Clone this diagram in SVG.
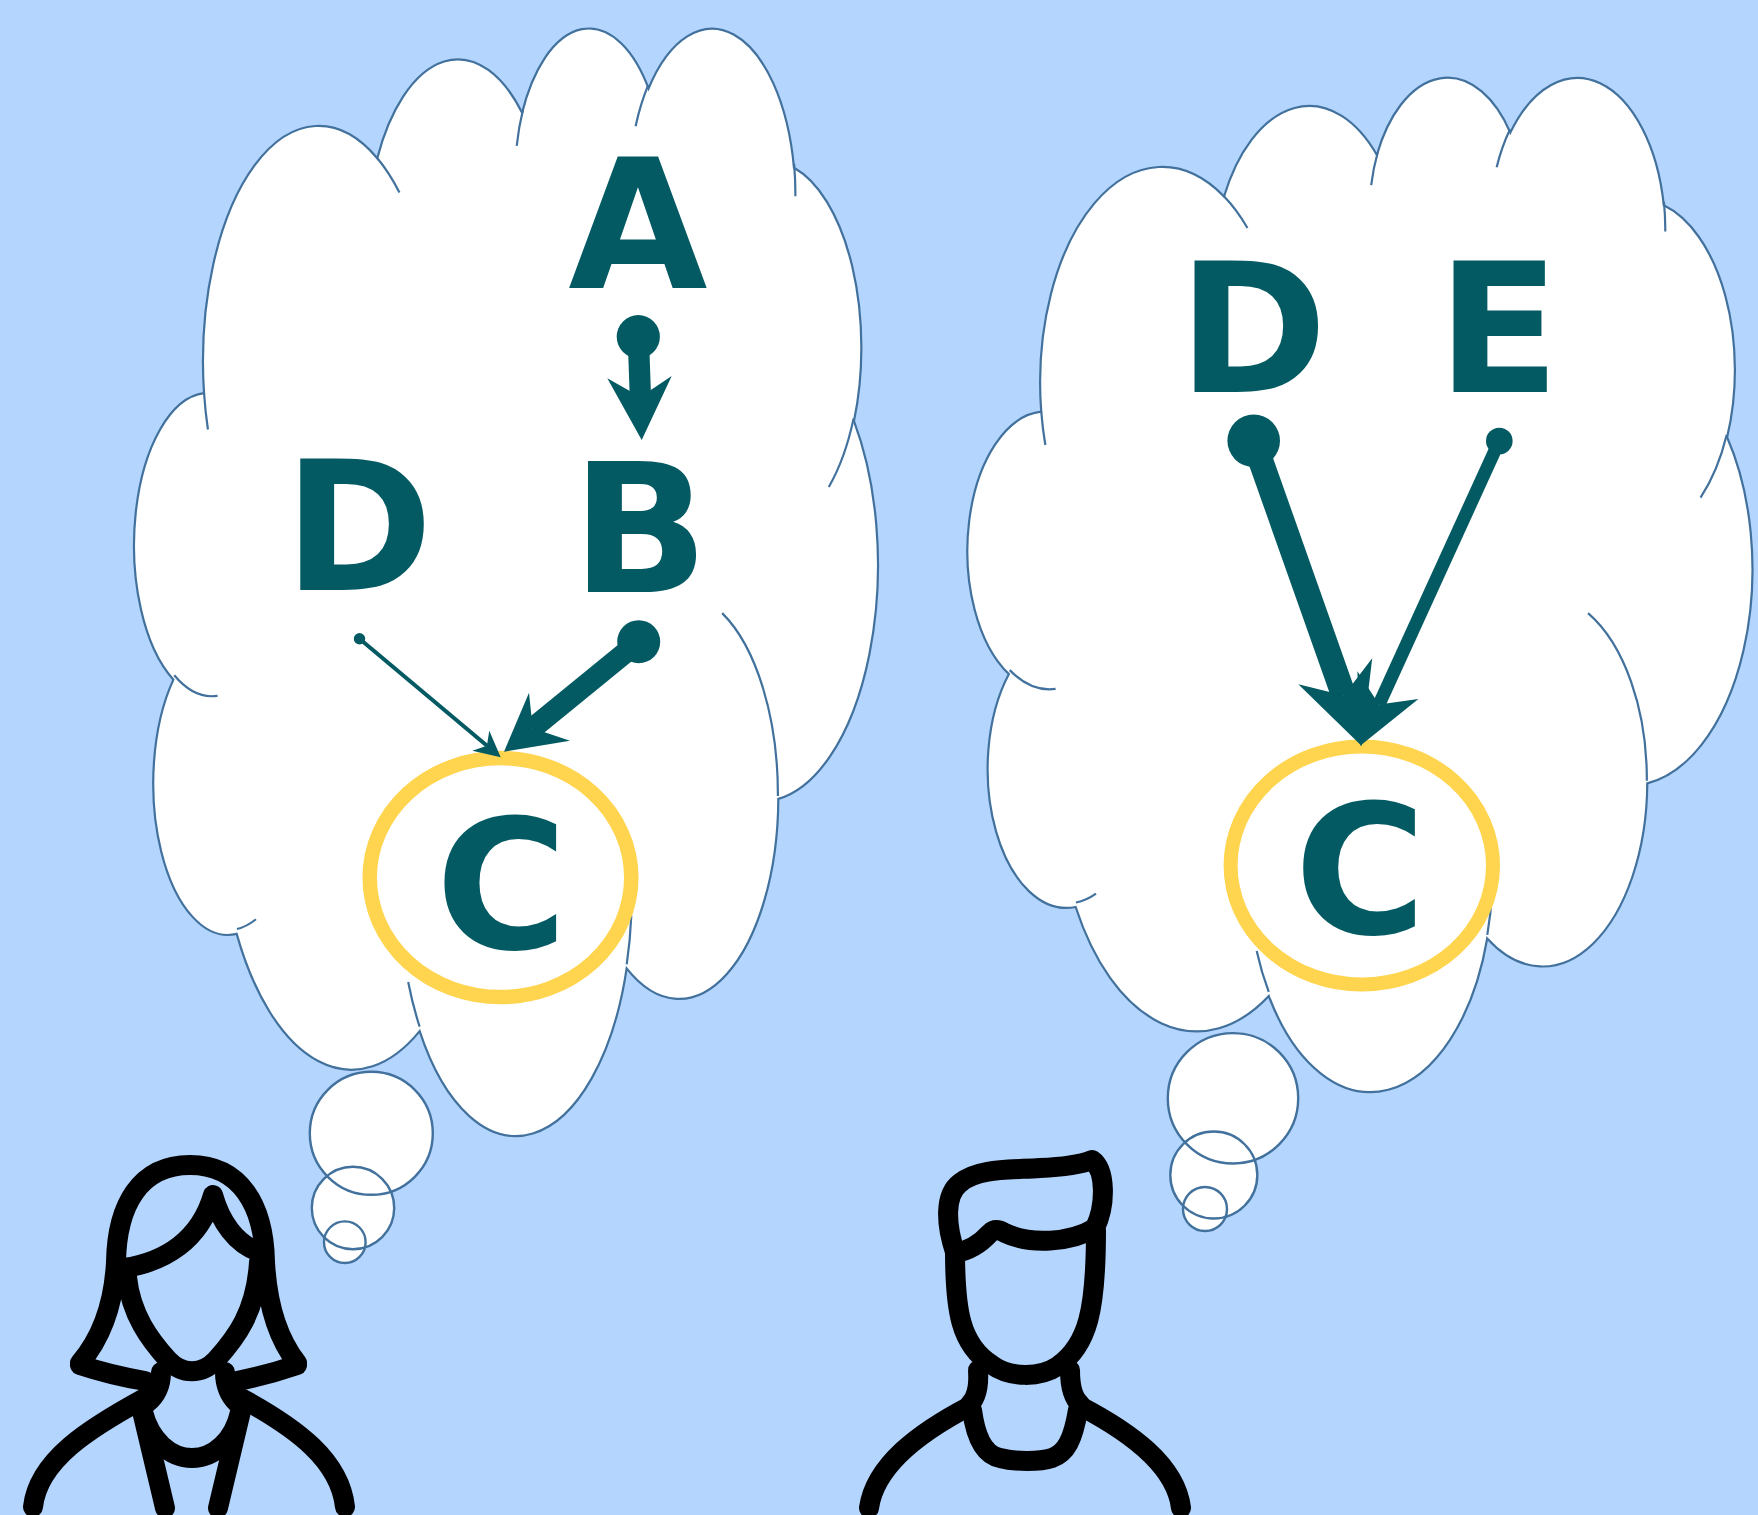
<svg xmlns="http://www.w3.org/2000/svg" width="1758" height="1515" viewBox="0 0 1758 1515">
  <style>
    .cloud { fill: #ffffff; stroke: #41719c; }
    .crease { fill: none; stroke: #41719c; }
    .puff { fill: #ffffff; stroke: none; }
    .puff-edge { fill: none; stroke: #41719c; stroke-width: 2.4px; }
    .focus { fill: none; stroke: #ffd44f; }
    .letter { font-family: "DejaVu Sans", "Liberation Sans", sans-serif; font-weight: bold; font-size: 180px; fill: #035a62; }
    .shaft { fill: none; stroke: #035a62; stroke-linecap: butt; }
    .tip { fill: #035a62; }
    .person path { fill: none; stroke: #000000; stroke-width: 20px; stroke-linecap: round; stroke-linejoin: round; }
  </style>

  <rect x="0" y="0" width="1758" height="1515" fill="#b4d5fe"/>

  <!-- left thought bubble (cloud drawn in a 43200 x 43200 unit box) -->
  <g id="bubble-left">
    <g transform="translate(137.2 24.9) scale(0.01714 0.025627)">
      <path class="cloud" vector-effect="non-scaling-stroke" stroke-width="2.2" d="M3900 14370 A6753 9190 0 0 1 14005.5 5202.3 A5333 7267 0 0 1 22456.3 3432.6 A4365 5945 0 0 1 29833.3 2481 A4857 6595 0 0 1 38318.3 5576.1 A5333 7273 0 0 1 41818 15459.7 A6775 9220 0 0 1 37404.1 30203 A5785 7867 0 0 1 28555.7 36813.2 A6752 9215 0 0 1 16480 39264.4 A7720 10543 0 0 1 5804 35470.7 A4360 5918 0 0 1 2112.6 25548.9 A4345 5945 0 0 1 3900 14370 Z"/>
      <path class="crease" vector-effect="non-scaling-stroke" stroke-width="2.2" d="M4693 26177 A4345 5945 0 0 1 2160 25380.1 M6928 34899 A4360 5918 0 0 1 5819.4 35280.6 M16478 39090 A6752 9215 0 0 1 15810.4 37349.5 M28827 34751 A6752 9215 0 0 1 28560.4 36660.3 M34129 22954 A5785 7867 0 0 1 37380.3 30089.5 M41798 15354 A5333 7273 0 0 1 40350.1 18029.7 M38324 5426 A4857 6595 0 0 1 38400.4 6689.7 M29078 3952 A4857 6595 0 0 1 29819.8 2340.4 M22141 4720 A4365 5945 0 0 1 22500.2 3330.3 M14000 5192 A6753 9190 0 0 1 15300.2 6541 M4127 15789 A6753 9190 0 0 1 3900.2 14370.5"/>
    </g>
    <circle class="puff" cx="371.3" cy="1133.3" r="61.5"/>
    <circle class="puff" cx="353" cy="1208" r="41.2"/>
    <circle class="puff" cx="344.8" cy="1242.2" r="20.8"/>
    <circle class="puff-edge" cx="371.3" cy="1133.3" r="61.5"/>
    <circle class="puff-edge" cx="353" cy="1208" r="41.2"/>
    <circle class="puff-edge" cx="344.8" cy="1242.2" r="20.8"/>
  </g>

  <!-- right thought bubble -->
  <g id="bubble-right">
    <g transform="translate(970.7 74.4) scale(0.018088 0.023472)">
      <path class="cloud" vector-effect="non-scaling-stroke" stroke-width="2.2" d="M3900 14370 A6753 9190 0 0 1 14005.5 5202.3 A5333 7267 0 0 1 22456.3 3432.6 A4365 5945 0 0 1 29833.3 2481 A4857 6595 0 0 1 38318.3 5576.1 A5333 7273 0 0 1 41818 15459.7 A6775 9220 0 0 1 37404.1 30203 A5785 7867 0 0 1 28555.7 36813.2 A6752 9215 0 0 1 16480 39264.4 A7720 10543 0 0 1 5804 35470.7 A4360 5918 0 0 1 2112.6 25548.9 A4345 5945 0 0 1 3900 14370 Z"/>
      <path class="crease" vector-effect="non-scaling-stroke" stroke-width="2.2" d="M4693 26177 A4345 5945 0 0 1 2160 25380.1 M6928 34899 A4360 5918 0 0 1 5819.4 35280.6 M16478 39090 A6752 9215 0 0 1 15810.4 37349.5 M28827 34751 A6752 9215 0 0 1 28560.4 36660.3 M34129 22954 A5785 7867 0 0 1 37380.3 30089.5 M41798 15354 A5333 7273 0 0 1 40350.1 18029.7 M38324 5426 A4857 6595 0 0 1 38400.4 6689.7 M29078 3952 A4857 6595 0 0 1 29819.8 2340.4 M22141 4720 A4365 5945 0 0 1 22500.2 3330.3 M14000 5192 A6753 9190 0 0 1 15300.2 6541 M4127 15789 A6753 9190 0 0 1 3900.2 14370.5"/>
    </g>
    <circle class="puff" cx="1233" cy="1098.3" r="65.2"/>
    <circle class="puff" cx="1213.8" cy="1175" r="43.5"/>
    <circle class="puff" cx="1205" cy="1209" r="22"/>
    <circle class="puff-edge" cx="1233" cy="1098.3" r="65.2"/>
    <circle class="puff-edge" cx="1213.8" cy="1175" r="43.5"/>
    <circle class="puff-edge" cx="1205" cy="1209" r="22"/>
  </g>

  <!-- nodes of the left bubble -->
  <g id="node-left-A"><text class="letter" x="638" y="287.5" text-anchor="middle">A</text></g>
  <g id="node-left-B"><text class="letter" x="640" y="592.3" text-anchor="middle">B</text></g>
  <g id="node-left-D"><text class="letter" x="358.5" y="589.5" text-anchor="middle">D</text></g>
  <g id="node-left-C">
    <ellipse class="focus" cx="500.5" cy="877.6" rx="130.8" ry="119.5" stroke-width="14.5"/>
    <text class="letter" x="501.5" y="947.7" text-anchor="middle">C</text>
  </g>

  <!-- nodes of the right bubble -->
  <g id="node-right-D"><text class="letter" x="1252.7" y="391.6" text-anchor="middle">D</text></g>
  <g id="node-right-E"><text class="letter" x="1498.6" y="391.6" text-anchor="middle">E</text></g>
  <g id="node-right-C">
    <ellipse class="focus" cx="1361.8" cy="865.5" rx="131.2" ry="119" stroke-width="14"/>
    <text class="letter" x="1360.3" y="933" text-anchor="middle">C</text>
  </g>

  <!-- connectors: oval tail, shaft, stealth head -->
  <g id="connectors">
    <g id="edge-A-B">
      <path class="shaft" d="M638.3 336.7 L640.4 397" stroke-width="21.3"/>
      <circle class="tip" cx="638.3" cy="336.7" r="21.6"/>
      <path class="tip" d="M641.7 440 L671.7 376 L640.4 397 L607.3 378.3 Z"/>
    </g>
    <g id="edge-D-C-left">
      <path class="shaft" d="M359.5 638.7 L487 745.8" stroke-width="4"/>
      <circle class="tip" cx="359.5" cy="638.7" r="5.7"/>
      <path class="tip" d="M500.7 757.3 L489.3 730.7 L486.9 745.7 L472.3 750.7 Z"/>
    </g>
    <g id="edge-B-C">
      <path class="shaft" d="M638.7 641.7 L532.7 728.3" stroke-width="21.5"/>
      <circle class="tip" cx="638.7" cy="641.7" r="21.5"/>
      <path class="tip" d="M504 751.7 L529 692.7 L532.7 728.3 L570 740.7 Z"/>
    </g>
    <g id="edge-E-C">
      <path class="shaft" d="M1499.3 441 L1379 704.5" stroke-width="13"/>
      <circle class="tip" cx="1499.3" cy="441" r="13.3"/>
      <path class="tip" d="M1360.2 745.8 L1357.4 671.2 L1379 704.5 L1418.4 699 Z"/>
    </g>
    <g id="edge-D-C-right">
      <path class="shaft" d="M1253.7 440.8 L1343.8 695.6" stroke-width="25"/>
      <circle class="tip" cx="1253.7" cy="440.8" r="26.3"/>
      <path class="tip" d="M1361.7 746 L1298.3 684.3 L1343.8 695.6 L1372.2 658.2 Z"/>
    </g>
  </g>

  <!-- woman icon -->
  <g id="person-woman" class="person">
    <path d="M80 1363 C103 1336 114 1300 116 1262 C117 1205 140 1165 190 1165 C240 1165 264 1205 265 1262 C267 1300 276 1336 297 1363"/>
    <path d="M80 1365 Q110 1375 145 1381"/>
    <path d="M297 1365 Q268 1375 237 1381"/>
    <path d="M124 1268 C165 1262 200 1240 213 1195 C220 1220 235 1245 262 1253"/>
    <path d="M127 1277 C131 1315 150 1340 168 1360 C182 1375 202 1375 216 1360 C236 1338 256 1312 259 1262"/>
    <path d="M161 1372 C161 1385 157 1395 147 1403"/>
    <path d="M225 1372 C225 1385 229 1395 237 1403"/>
    <path d="M143 1399 C90 1428 38 1460 33 1507"/>
    <path d="M243 1399 C296 1428 340 1460 345 1507"/>
    <path d="M141 1407 L165 1508"/>
    <path d="M242 1407 L218 1508"/>
    <path d="M143 1412 C150 1440 170 1458 192 1458 C214 1458 234 1440 240 1412"/>
  </g>

  <!-- man icon -->
  <g id="person-man" class="person">
    <path d="M955 1252 C946 1225 944 1195 960 1183 C978 1168 1010 1170 1040 1168 C1065 1167 1082 1164 1092 1160 C1106 1170 1106 1205 1095 1228"/>
    <path d="M955 1253 C968 1251 980 1244 990 1233 C995 1228 1000 1230 1005 1233 C1030 1245 1070 1243 1095 1228"/>
    <path d="M955 1250 C955 1310 960 1345 992 1365 C1010 1378 1040 1378 1058 1366 C1088 1345 1096 1310 1096 1230"/>
    <path d="M978 1370 C979 1385 977 1397 970 1404"/>
    <path d="M1070 1370 C1070 1385 1072 1397 1080 1404"/>
    <path d="M970 1406 C920 1432 875 1465 869 1508"/>
    <path d="M1080 1406 C1130 1432 1176 1465 1181 1508"/>
    <path d="M972 1410 C976 1440 985 1455 1000 1458 C1015 1462 1040 1462 1052 1458 C1066 1453 1073 1440 1078 1410"/>
  </g>
</svg>
